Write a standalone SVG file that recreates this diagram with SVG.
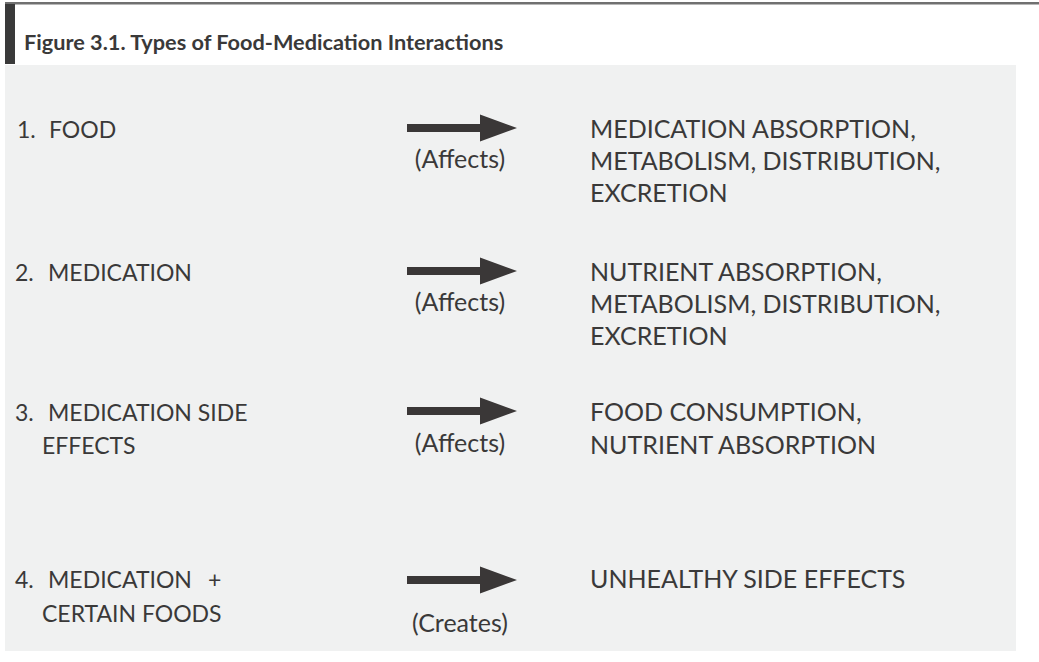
<svg xmlns="http://www.w3.org/2000/svg" width="1039" height="662" viewBox="0 0 1039 662">
<defs>
<style>
.t{font-family:Lato,"Liberation Sans",sans-serif;font-size:23px;fill:#3a3939}
.r{font-size:25px}
.title{font-family:Lato,"Liberation Sans",sans-serif;font-size:21.7px;font-weight:bold;fill:#3a3939}
.lbl{text-anchor:middle;font-size:25px}
.arr{fill:#3a3737}
</style>
<g id="arrowShape"><path class="arr" d="M0,-4 L73,-4 L73,-13.5 L110,0 L73,13.5 L73,4 L0,4 Z"/></g>
</defs>
<rect x="0" y="0" width="1039" height="662" fill="#ffffff"/>
<rect x="5" y="2" width="1034" height="2.5" fill="#707070"/>
<rect x="5" y="4" width="10" height="60" fill="#3a3a3a"/>
<text class="title" x="24" y="50">Figure 3.1. Types of Food-Medication Interactions</text>
<rect id="panel" x="5" y="65" width="1011" height="586" fill="#f0f1f1"/>
<g id="connectors">
<use href="#arrowShape" x="407" y="128"/>
<use href="#arrowShape" x="407" y="271"/>
<use href="#arrowShape" x="407" y="411"/>
<use href="#arrowShape" x="407" y="580"/>
</g>
<g id="row1">
<text class="t" x="17" y="138">1.</text><text class="t" x="49" y="138">FOOD</text>
<text class="t lbl" x="460" y="168">(Affects)</text>
<text class="t r" x="590" y="138">MEDICATION ABSORPTION,</text>
<text class="t r" x="590" y="170">METABOLISM, DISTRIBUTION,</text>
<text class="t r" x="590" y="202">EXCRETION</text>
</g>
<g id="row2">
<text class="t" x="15" y="281">2.</text><text class="t" x="48" y="281">MEDICATION</text>
<text class="t lbl" x="460" y="311">(Affects)</text>
<text class="t r" x="590" y="281">NUTRIENT ABSORPTION,</text>
<text class="t r" x="590" y="313">METABOLISM, DISTRIBUTION,</text>
<text class="t r" x="590" y="345">EXCRETION</text>
</g>
<g id="row3">
<text class="t" x="15" y="421">3.</text><text class="t" x="48" y="421">MEDICATION SIDE</text>
<text class="t" x="42" y="454">EFFECTS</text>
<text class="t lbl" x="460" y="452">(Affects)</text>
<text class="t r" x="590" y="421">FOOD CONSUMPTION,</text>
<text class="t r" x="590" y="454">NUTRIENT ABSORPTION</text>
</g>
<g id="row4">
<text class="t" x="15" y="588">4.</text><text class="t" x="48" y="588">MEDICATION</text><text class="t" x="208" y="588">+</text>
<text class="t" x="42" y="622">CERTAIN FOODS</text>
<text class="t lbl" x="460" y="632">(Creates)</text>
<text class="t r" x="590" y="588">UNHEALTHY SIDE EFFECTS</text>
</g>
</svg>
